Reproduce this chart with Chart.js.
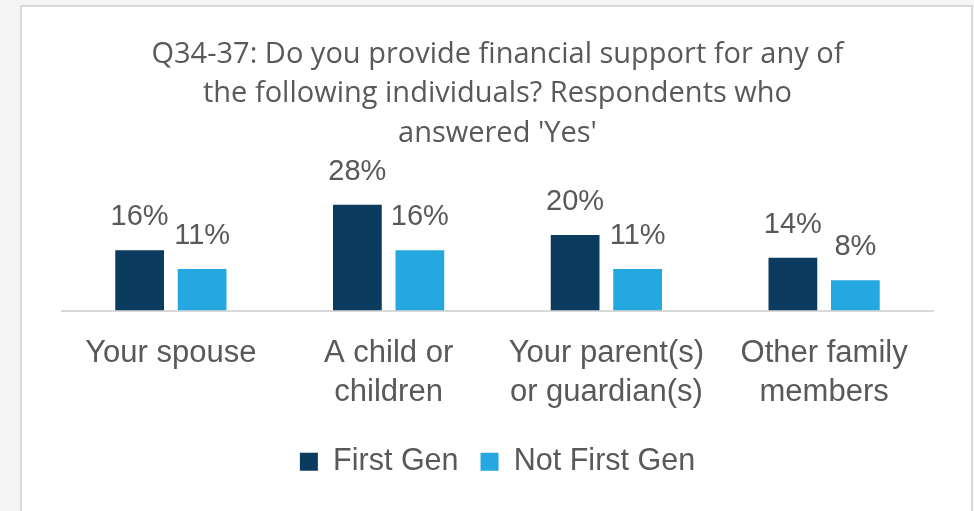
<!DOCTYPE html>
<html>
<head>
<meta charset="utf-8">
<script src="https://cdn.jsdelivr.net/npm/chart.js@4.4.1/dist/chart.umd.min.js"></script>
<style>
  html, body { margin: 0; padding: 0; }
  body { width: 974px; height: 511px; background: #f5f5f5; position: relative; overflow: hidden; }
  #card { position: absolute; left: 20px; top: 5px; width: 949px; height: 520px; background: #fff; border: 2px solid #d9d9d9; }
  #wrap { position: absolute; left: 0; top: 0; width: 974px; height: 511px; }
</style>
</head>
<body>
<div id="card"></div>
<div id="wrap"><canvas id="grafico"></canvas></div>
<script>
// dati
var categorie = [['Your spouse'], ['A child or', 'children'], ['Your parent(s)', 'or guardian(s)'], ['Other family', 'members']];
var firstGen = [16, 28, 20, 14];
var notFirstGen = [11, 16, 11, 8];
var titolo = ['Q34-37: Do you provide financial support for any of', 'the following individuals? Respondents who', "answered 'Yes'"];

var grigio = '#595959';

// etichette sopra le barre
var etichette = {
    id: 'etichette',
    afterDatasetsDraw: function(chart) {
        var ctx = chart.ctx;
        ctx.save();
        ctx.font = '29px "Liberation Sans", Arial, sans-serif';
        ctx.fillStyle = grigio;
        ctx.textAlign = 'center';
        ctx.textBaseline = 'alphabetic';
        chart.data.datasets.forEach(function(ds, i) {
            chart.getDatasetMeta(i).data.forEach(function(bar, j) {
                ctx.fillText(ds.data[j] + '%', bar.x, bar.y - 25);
            });
        });
        ctx.restore();
    }
};

var ctx = document.getElementById('grafico');
var chart = new Chart(ctx, {
    type: 'bar',
    data: {
        labels: categorie,
        datasets: [{
            label: 'First Gen',
            data: firstGen,
            backgroundColor: '#0b3b5e',
            barPercentage: 0.78,
            categoryPercentage: 0.574
        }, {
            label: 'Not First Gen',
            data: notFirstGen,
            backgroundColor: '#25a8e0',
            barPercentage: 0.78,
            categoryPercentage: 0.574
        }]
    },
    options: {
        responsive: true,
        maintainAspectRatio: false,
        animation: false,
        layout: { padding: { left: 62, right: 41, top: 0, bottom: 24 } },
        scales: {
            x: {
                grid: { display: false, drawTicks: false },
                border: { display: true, color: '#d9d9d9', width: 2 },
                ticks: {
                    color: grigio,
                    padding: 24,
                    maxRotation: 0,
                    autoSkip: false,
                    font: { family: '"Liberation Sans", Arial, sans-serif', size: 31, lineHeight: 1.24 }
                },
                afterFit: function(scale) { scale.height = 114; }
            },
            y: {
                display: false,
                min: 0,
                max: 30
            }
        },
        plugins: {
            title: {
                display: true,
                text: titolo,
                color: grigio,
                padding: { top: 35, bottom: 44 },
                font: { family: '"Open Sans", sans-serif', size: 29, weight: 'normal', lineHeight: 1.36 }
            },
            legend: {
                position: 'bottom',
                labels: {
                    color: grigio,
                    boxWidth: 18,
                    boxHeight: 18,
                    padding: 22,
                    font: { family: '"Liberation Sans", Arial, sans-serif', size: 30.5 }
                }
            },
            tooltip: { enabled: false }
        }
    },
    plugins: [etichette]
});
</script>
</body>
</html>
